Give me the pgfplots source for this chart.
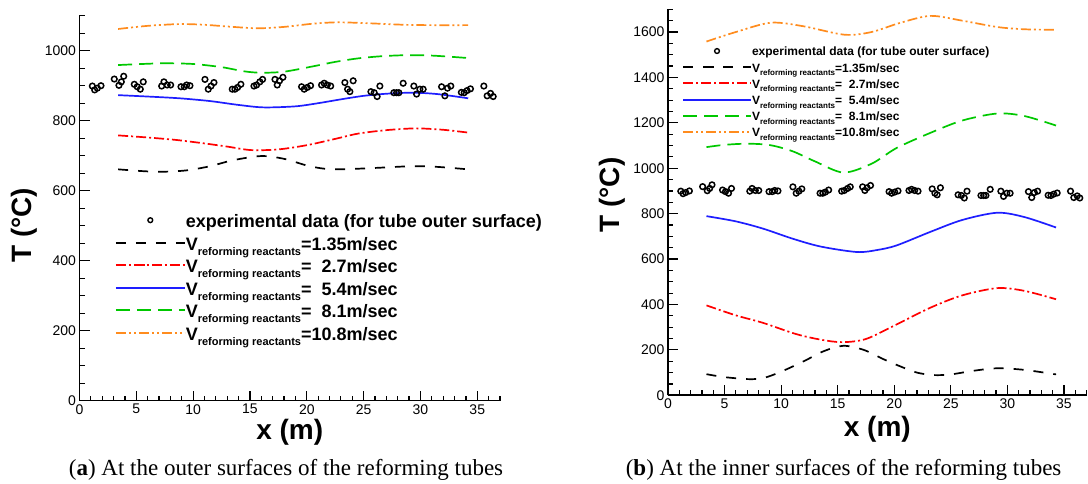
\documentclass[border=0pt]{standalone}
\usepackage{fontspec}
\setmainfont{Liberation Sans}
\newfontfamily\capfamily{Liberation Serif}
\usepackage{pgfplots}
\usepackage{pgfplotstable}
\pgfplotsset{compat=1.18}

\definecolor{cten}{RGB}{255,140,30}
\definecolor{ceight}{RGB}{0,200,0}
\definecolor{cfive}{RGB}{30,30,255}
\definecolor{ctwo}{RGB}{255,0,0}

\newcommand\capfont{\capfamily\fontsize{23}{27}\selectfont}
% V with the "reforming reactants" subscript; #1 = subscript size, #2 = drop
\newcommand\Vrr[2]{V\raisebox{-#2}{\fontsize{#1}{#1}\selectfont reforming reactants}}

% measured wall temperatures (tube outer surface)
\pgfplotstableread{
x T
1.13 899
1.33 888
1.57 893
1.89 900
3.06 919
3.47 901
3.68 911
3.89 927
4.82 904
5.08 897
5.35 890
5.61 911
7.23 899
7.43 911
7.72 902
8.02 902
8.93 897
9.22 897
9.43 902
9.72 900
11.04 918
11.33 890
11.57 899
11.83 909
13.44 890
13.68 890
13.91 895
14.20 904
15.35 899
15.58 902
15.87 911
16.11 918
17.20 918
17.40 902
17.60 914
17.90 924
19.54 897
19.77 890
20.04 895
20.33 900
21.30 902
21.53 907
21.80 902
22.10 899
23.35 909
23.59 890
23.79 883
24.08 914
25.64 883
25.93 880
26.19 869
26.43 899
27.66 880
27.90 880
28.10 880
28.48 907
29.42 899
29.66 876
29.95 890
30.24 890
31.86 897
32.15 871
32.38 893
32.67 899
33.60 881
33.85 880
34.10 886
34.40 891
35.58 899
35.87 871
36.17 878
36.40 869
}\expdata

\pgfplotsset{
  tplot/.style={
    scale only axis,
    axis lines=left,
    axis line style={line width=1.6pt,-},
    every outer x axis line/.append style={-},
    every outer y axis line/.append style={-},
    tick align=inside,
    major tick length=10pt, minor tick length=5pt,
    every tick/.style={black,line width=1.2pt},
    xmin=0, xmax=37, ymin=0,
    xtick={0,5,...,40}, minor x tick num=4,
    minor y tick num=3,
    tick label style={font=\fontsize{14}{14}\selectfont},
    /pgf/number format/assume math mode=true,
    /pgf/number format/1000 sep={},
    xlabel={x (m)}, ylabel={T (°C)},
    label style={font=\fontsize{28}{28}\selectfont\bfseries},
    legend cell align=left,
    legend image post style={line width=2pt},
  },
  curve/.style={line width=1.7pt, smooth, mark=none},
  s135/.style={curve, black, dash pattern=on 10pt off 10pt},
  s27/.style={curve, ctwo, dash pattern=on 10pt off 3pt on 2pt off 3pt},
  s54/.style={curve, cfive},
  s81/.style={curve, ceight, dash pattern=on 14pt off 7pt},
  s108/.style={curve, cten, dash pattern=on 10pt off 3pt on 2pt off 3pt on 2pt off 3pt},
  expt/.style={only marks, mark=o, mark size=2.8pt, line width=1.5pt, black,
    legend image post style={line width=1.4pt, mark size=2.4pt}},
}

\begin{document}
\begin{tikzpicture}
% (a) outer surface
\begin{axis}[tplot,
  at={(79.5pt,83.3pt)}, anchor=south west,
  width=420.5pt, height=385pt,
  ymax=1100, ytick={0,200,...,1200},
  xlabel style={at={(axis description cs:0.5,-0.0813)}, anchor=center},
  ylabel style={at={(axis description cs:-0.132,0.456)}, anchor=center},
  legend style={at={(axis description cs:0.0835,0.483)}, anchor=north west,
    draw=none, fill=none, inner sep=0pt, row sep=0pt,
    font=\fontsize{18}{18}\selectfont\bfseries,
    nodes={inner sep=0pt, text height=13pt, text depth=9.5pt}},
  legend image code/.code={\draw[mark repeat=2,mark phase=2,#1] plot coordinates {(0pt,6pt) (34.5pt,6pt) (69pt,6pt)};},
]
\addplot[expt] table {\expdata};
\addlegendentry{experimental data (for tube outer surface)}
\addplot[s135] coordinates {(3.4,661) (5.5,656) (7.2,654) (9.4,658) (11.5,670) (13.5,687) (16,699) (18,691) (20,672) (21.5,663) (23,661) (26,665) (29.3,670) (31.5,668) (34.2,661)};
\addlegendentry{\Vrr{11}{5pt}=1.35m/sec}
\addplot[s27] coordinates {(3.4,758) (6,752) (8.5,745) (11,735) (13,726) (15.1,716) (17.5,718) (20,730) (22.5,748) (24.5,763) (27,773) (29.6,778) (32,774) (34.2,766)};
\addlegendentry{\Vrr{11}{5pt}=\phantom{1}2.7m/sec}
\addplot[s54] coordinates {(3.4,873) (6,869) (8.8,864) (11.5,856) (14,845) (16.2,838) (19,841) (21,850) (23,861) (25,871) (27,877) (29.3,880) (31.5,876) (34.2,864)};
\addlegendentry{\Vrr{11}{5pt}=\phantom{1}5.4m/sec}
\addplot[s81] coordinates {(3.4,959) (5.5,962) (7.5,964) (10,962) (12.5,953) (14.5,941) (16,937) (18,940) (20.5,955) (22.5,968) (24.5,978) (26.5,984) (28.6,987) (31,986) (34.2,979)};
\addlegendentry{\Vrr{11}{5pt}=\phantom{1}8.1m/sec}
\addplot[s108] coordinates {(3.4,1062) (6,1071) (8.8,1076) (11,1074) (13.5,1068) (15.7,1064) (18,1068) (20.5,1077) (22.6,1081) (25,1079) (28.6,1074) (31,1073) (34.2,1073)};
\addlegendentry{\Vrr{11}{5pt}=10.8m/sec}
\end{axis}

% (b) inner surface
\begin{axis}[tplot,
  at={(668pt,88.7pt)}, anchor=south west,
  width=418.6pt, height=386pt,
  ymax=1700, ytick={0,200,...,1800},
  xlabel style={at={(axis description cs:0.5,-0.0873)}, anchor=center},
  ylabel style={at={(axis description cs:-0.134,0.519)}, anchor=center},
  legend style={at={(axis description cs:0.033,0.903)}, anchor=north west,
    draw=none, fill=none, inner sep=0pt, row sep=0pt,
    font=\fontsize{12}{12}\selectfont\bfseries,
    nodes={inner sep=0pt, text height=9pt, text depth=7.2pt}},
  legend image code/.code={\draw[mark repeat=2,mark phase=2,#1] plot coordinates {(0pt,4pt) (34pt,4pt) (68pt,4pt)};},
]
\addplot[expt] table {\expdata};
\addlegendentry{experimental data (for tube outer surface)}
\addplot[s135] coordinates {(3.4,93) (5,80) (7.2,71) (8.5,77) (10,104) (12,150) (13.8,195) (15.5,218) (17.3,200) (19,160) (20.5,128) (22,100) (23.5,89) (25,92) (27,108) (29.1,119) (31.5,112) (34.3,92)};
\addlegendentry{\Vrr{8}{3.5pt}=1.35m/sec}
\addplot[s27] coordinates {(3.4,396) (6,352) (8.4,319) (11.3,270) (13.5,245) (15.4,234) (17.5,248) (20.2,312) (23.2,386) (26,440) (29.1,472) (31.5,460) (34.3,423)};
\addlegendentry{\Vrr{8}{3.5pt}=\phantom{1}2.7m/sec}
\addplot[s54] coordinates {(3.4,789) (6,766) (8.4,734) (11,690) (13.5,655) (16.7,631) (18.5,640) (20.2,660) (23.2,720) (26,772) (29.1,804) (31.5,785) (34.3,739)};
\addlegendentry{\Vrr{8}{3.5pt}=\phantom{1}5.4m/sec}
\addplot[s81] coordinates {(3.4,1093) (5,1103) (7,1108) (9,1102) (11,1075) (13,1030) (15.5,981) (18,1020) (20.2,1089) (23.2,1156) (26,1210) (29.1,1241) (31.5,1230) (34.3,1188)};
\addlegendentry{\Vrr{8}{3.5pt}=\phantom{1}8.1m/sec}
\addplot[s108] coordinates {(3.4,1558) (6,1600) (9.1,1641) (12,1625) (15.6,1588) (18,1600) (20.5,1640) (23.2,1671) (26,1650) (29.1,1622) (31.5,1612) (34.2,1610)};
\addlegendentry{\Vrr{8}{3.5pt}=10.8m/sec}
\end{axis}

\node[anchor=base, inner sep=0pt, font=\capfont] at (286pt,8pt) {(\textbf{a}) At the outer surfaces of the reforming tubes};
\node[anchor=base west, inner sep=0pt, font=\capfont] at (625.6pt,8pt) {(\textbf{b}) At the inner surfaces of the reforming tubes};

\pgfresetboundingbox
\useasboundingbox (0,0) rectangle (1088pt,484pt);
\end{tikzpicture}
\end{document}
